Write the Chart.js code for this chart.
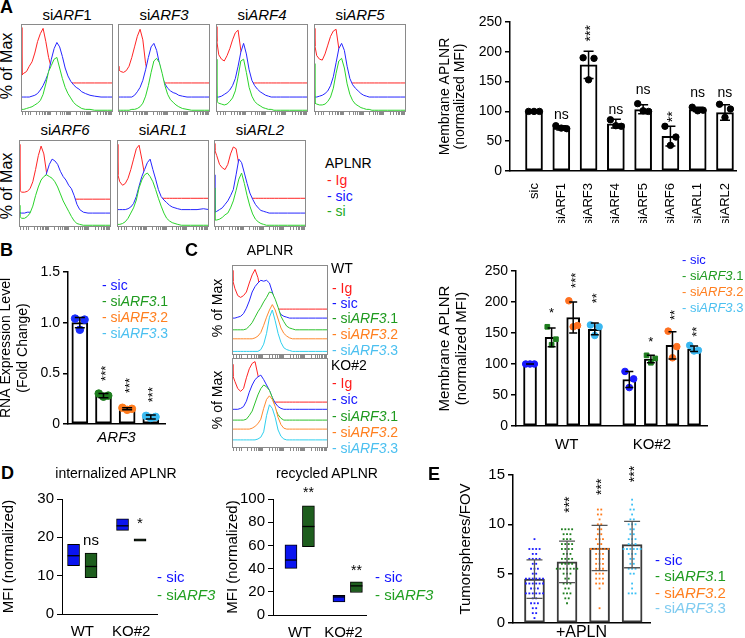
<!DOCTYPE html>
<html><head><meta charset="utf-8">
<script src="https://cdn.jsdelivr.net/npm/chart.js@4.4.1/dist/chart.umd.min.js"></script>
<style>
html,body{margin:0;padding:0;background:#fff;}
body{position:relative;width:745px;height:638px;overflow:hidden;font-family:'Liberation Sans',Arial,Helvetica,sans-serif;color:#000;}
.t{position:absolute;white-space:nowrap;line-height:1.15;}
canvas{position:absolute;}
</style></head><body>
<script>
// ================= DATA =================
// Flow histograms: shared x grid (fluorescence channel, 0-100) and curves in % of max (overlay offsets included)
const HX = [0,1,3,6,9,12,15,18,21,24,27,30,33,36,39,42,45,48,51,54,57,60,63,66,70,75,80,87,94,100];

const histTitlesA = ['si<i>ARF</i>1','si<i>ARF3</i>','si<i>ARF4</i>','si<i>ARF5</i>','si<i>ARF6</i>','si<i>ARL1</i>','si<i>ARL2</i>'];
const histIg = [
 [96,42,44,46,52,57,67,80,89,95,80,62,50,42,36,33,33,33,33,33,33,33,33,33,33,33,33,33,33,33],
 [52,48,46,45,47,52,62,74,86,94,82,55,42,36,34,33,33,33,33,33,33,33,33,33,33,33,33,33,33,33],
 [97,80,65,60,58,64,72,82,90,93,70,48,38,34,33,33,33,33,33,33,33,33,33,33,33,33,33,33,33,33],
 [95,75,64,60,59,66,76,86,92,94,72,50,39,35,33,33,33,33,33,33,33,33,33,33,33,33,33,33,33,33],
 [95,42,40,40,41,44,52,66,82,93,84,62,46,40,37,35,34,33,32,32,32,32,32,32,32,32,32,32,32,32],
 [95,60,52,48,50,56,66,78,90,94,78,60,46,38,34,33,33,33,33,33,33,33,33,33,33,33,33,33,33,33],
 [96,88,82,72,68,66,72,84,92,90,72,52,40,35,33,33,33,33,33,33,33,33,33,33,33,33,33,33,33,33]
];
const histSic = [
 [17,17,17,17,17,18,19,21,25,30,37,45,60,72,79,74,63,50,41,35,31,28,26,23,21,19,18,17,17,17],
 [17,17,17,17,17,17,17,19,23,28,36,48,62,74,78,70,55,40,32,27,24,22,21,19,18,17,17,17,17,17],
 [17,17,17,18,20,22,25,30,38,52,68,78,66,48,36,30,26,23,21,19,18,17,17,17,17,17,17,17,17,17],
 [17,17,17,18,19,21,24,30,40,56,72,78,70,52,38,31,27,24,21,19,18,17,17,17,17,17,17,17,17,17],
 [17,16,16,16,17,17,18,20,24,34,50,62,72,78,76,72,64,58,54,48,44,36,26,20,17,16,16,16,16,16],
 [20,20,20,20,20,21,23,27,35,47,58,66,74,78,66,55,43,35,31,28,25,23,22,21,20,20,20,20,21,20],
 [60,17,18,20,22,26,30,36,43,60,78,74,62,50,39,32,26,22,19,18,17,16,16,16,16,16,16,16,16,16]
];
const histSi = [
 [3,3,3,4,5,6,8,10,13,20,32,46,53,60,62,50,38,28,21,16,11,8,6,4,3,3,2,2,2,2],
 [2,2,2,2,2,2,3,3,4,6,10,18,30,45,58,61,56,44,30,20,14,11,8,6,4,3,2,2,2,2],
 [60,12,10,9,8,9,12,16,24,40,58,60,45,28,18,12,9,7,5,4,3,3,2,2,2,2,2,2,2,2],
 [55,10,9,8,8,9,12,17,27,44,58,61,50,32,20,13,9,7,5,4,3,3,2,2,2,2,2,2,2,2],
 [25,12,10,10,12,16,24,36,46,54,58,60,58,56,52,46,38,30,24,18,12,7,4,3,2,2,2,2,2,2],
 [3,3,3,4,6,10,16,22,31,45,54,60,62,58,52,43,33,24,16,10,7,5,4,3,2,2,2,2,2,2],
 [45,8,8,9,11,14,16,22,30,42,55,62,50,36,24,15,9,6,4,3,2,2,2,2,2,2,2,2,2,2]
];
// Panel C histograms: WT and KO#2, five overlaid curves
const cWtIg  = [94,82,74,66,64,66,70,80,89,95,86,70,56,52,51,51,51,51,51,51,51,51,51,51,51,51,51,51,51,51];
const cWtSic = [41,41,41,42,43,46,52,60,70,76,80,83,82,83,80,70,58,50,45,43,42,41,41,41,41,41,41,41,41,41];
const cWtS1  = [28,28,28,28,28,28,29,32,36,42,48,53,59,64,70,69,62,53,43,37,32,30,29,28,28,28,28,28,28,28];
const cWtS2  = [18,18,18,18,18,18,18,18,18,19,21,25,33,42,50,56,50,40,30,24,21,19,18,18,18,18,18,18,18,18];
const cWtS3  = [4,4,4,4,4,4,4,4,4,4,4,6,12,24,42,50,38,24,14,8,6,5,4,4,4,4,4,4,4,4];
const cKoIg  = [93,80,74,66,63,66,78,88,94,96,81,64,55,52,51,51,51,51,51,51,51,51,51,51,51,51,51,51,51,51];
const cKoSic = [43,43,43,43,44,46,52,62,70,76,79,81,76,70,64,56,50,46,44,43,43,43,43,43,43,43,43,43,43,43];
const cKoS1  = [31,31,31,31,31,31,32,36,41,50,59,66,70,68,64,56,44,37,33,31,31,31,31,31,31,31,31,31,31,31];
const cKoS2  = [21,21,21,21,21,21,21,21,22,24,27,32,44,54,58,54,46,34,26,22,21,21,21,21,21,21,21,21,21,21];
const cKoS3  = [9,9,9,9,9,9,9,9,9,9,10,12,18,36,48,44,34,20,13,10,9,9,9,9,9,9,9,9,9,9];

// Panel A bar chart
const aCats = ['sic','siARF1','siARF3','siARF4','siARF5','siARF6','siARL1','siARL2'];
const aMean = [100,72,178,79,103,58,103,98];
const aPts  = [[100,100,100],[76,71,72],[190,189,153],[86,75,76],[113,100,101],[75,57,43],[107,102,101],[112,104,90]];
const aLo   = [99,69,155,72,96,42,100,85];
const aHi   = [101,76,201,87,111,75,107,111];
const aSig  = ['','ns','***','ns','ns','**','ns','ns'];
const aSigY = [0,94,231,102,136,91,131,131];

// Panel B
const bCats = ['sic','siARF3.1','siARF3.2','siARF3.3'];
const bMean = [1.0,0.28,0.15,0.07];
const bPts  = [[1.04,1.03,0.93],[0.30,0.28,0.27],[0.16,0.15,0.14],[0.08,0.07,0.06]];
const bLo   = [0.95,0.26,0.14,0.05];
const bHi   = [1.05,0.30,0.16,0.09];
const bSig  = ['','***','***','***'];
const bSigY = [0,0.50,0.38,0.29];

// Panel C bar chart
const cGroups = ['WT','KO#2'];
const cMean = [[100,143,175,156],[75,108,130,124]];
const cPts  = [[[100,100,100],[160,140,131],[202,162,160],[163,160,146]],
               [[88,76,62],[114,109,102],[153,128,110],[130,122,121]]];
const cLo   = [[100,128,150,147],[62,102,108,120]];
const cHi   = [[100,158,200,166],[88,114,152,129]];
const cSig  = [['','*','***','**'],['','*','**','**']];
const cSigY = [[0,182,235,206],[0,135,179,152]];

// Panel D
const dGroups = ['WT','KO#2'];
const intSicBox = [[12.6,18.2],[21.8,24.8]], intSicMed = [15.2,23.0];
const intSiBox  = [[9.5,15.9],[19.0,19.6]],  intSiMed  = [12.4,19.3];
const recSicBox = [[40.2,60.4],[11.3,17.0]], recSicMed = [47.4,15.6];
const recSiBox  = [[59.0,94.2],[19.4,28.6]], recSiMed  = [76.3,25.1];
const intSig = ['ns','*'], intSigY = [19.2,23.5];
const recSig = ['**','**'], recSigY = [105,38];

// Panel E (tumorspheres per field of view)
const eMean = [4.45,6.2,7.6,7.95];
const eLo   = [2.5,4.1,5.3,5.6];
const eHi   = [6.4,8.3,9.9,10.3];
const eSic = [8.5,7.5,7.5,7.5,7.5,7,7,6.5,6.5,6.5,6.5,6,6,5.5,5.5,5.5,5,5,4.5,4.5,4.5,4.5,4.5,4.5,4,4,4,4,4,4,3.5,3.5,3.5,3,3,3,3,3,3,2.5,2.5,2,2,2,1.5,1.5,1,1,0.5];
const eS31 = [9.5,9.5,9.5,9.5,9,9,9,8.5,8.5,8.5,8,8,8,8,7.5,7.5,7.5,7.5,7,7,7,6.5,6.5,6.5,6.5,6,6,6,6,5.5,5.5,5.5,5.5,5.5,5.5,5.5,5,5,5,4.5,4.5,4,4,4,3.5,3.5,3,3,3,2.5,2.5,2];
const eS32 = [11.5,11.5,11,11,10.5,10,10,9.5,9.5,9,9,8.5,8.5,8.5,8,8,7.5,7.5,7.5,7.5,7.5,7.5,7,7,7,6.5,6.5,6.5,6,6,6,5.5,5.5,5.5,5,5,5,4.5,4.5,4.5,4,4,4,3.5,1.5];
const eS33 = [12.5,12,11.5,11.5,11,10.5,10.5,10,10,10,9.5,9.5,9,9,8.5,8.5,8.5,8,8,8,7.5,7.5,7.5,7.5,7.5,7.5,7,7,7,6.5,6.5,6,6,5.5,5.5,5.5,5,5,4,3.5,3,3,3];
const eSig = ['','***','***','***'], eSigY = [0,12,13.8,15.1];

// ================= STYLE / HELPERS =================
const F = "'Liberation Sans', Arial, Helvetica, sans-serif";
Chart.defaults.font.family = F;
Chart.defaults.color = '#000';
const RED='#ff2424', BLUE='#2626ff', GRN='#2bd42b', GRN2='#2ec22e', ORG='#ff8a30', CYN='#2fd0ee';
const T_BLUE='#1414ff', T_GRN='#1f9a1f', T_ORG='#ff7f1f', T_LB='#4cc0f0', T_RED='#ff1a1a';
const D_BLUE='#1a2eff', D_GRN='#1e7d1e', D_ORG='#ff7b1c', D_LB='#3cbcf2';

const framePlugin = {id:'frame', afterDraw(ch,a,o){
  if(!o || !o.color) return;
  const {left,top,right,bottom}=ch.chartArea, c=ch.ctx;
  c.save(); c.strokeStyle=o.color; c.lineWidth=1;
  c.strokeRect(left+0.5,top+0.5,right-left-1,bottom-top-1); c.restore();
}};
const extras = {id:'extras', afterDatasetsDraw(ch,a,o){
  if(!o) return;
  const c=ch.ctx, xs=ch.scales.x, ys=ch.scales.y;
  c.save();
  (o.err||[]).forEach(e=>{
    const px=xs.getPixelForValue(e.x), p1=ys.getPixelForValue(e.lo), p2=ys.getPixelForValue(e.hi);
    c.strokeStyle=e.color; c.lineWidth=e.lw; c.beginPath();
    c.moveTo(px,p1); c.lineTo(px,p2);
    c.moveTo(px-e.cap,p1); c.lineTo(px+e.cap,p1);
    c.moveTo(px-e.cap,p2); c.lineTo(px+e.cap,p2);
    c.stroke();
  });
  (o.notes||[]).forEach(n=>{
    if(!n.t) return;
    const px=xs.getPixelForValue(n.x), py=ys.getPixelForValue(n.y);
    c.save(); c.translate(px+(n.rot?3:0),py); if(n.rot) c.rotate(-Math.PI/2);
    c.font=n.font; c.fillStyle='#000'; c.textAlign='center'; c.textBaseline='middle';
    c.fillText(n.t,0,0); c.restore();
  });
  c.restore();
}};
Chart.register(framePlugin, extras);

function cv(x,y,w,h){const c=document.createElement('canvas');c.width=w;c.height=h;
  c.style.left=x+'px';c.style.top=y+'px';c.style.width=w+'px';c.style.height=h+'px';
  document.body.appendChild(c);return c;}
function txt(x,y,html,o){o=o||{};const d=document.createElement('div');d.className='t';d.innerHTML=html;
  d.style.left=x+'px';d.style.top=y+'px';d.style.fontSize=(o.size||14)+'px';
  if(o.color)d.style.color=o.color; if(o.bold)d.style.fontWeight='bold';
  d.style.transform=o.rot?'translate(-50%,-50%) rotate(-90deg)':(o.center?'translate(-50%,-50%)':'translate(0,-50%)');
  document.body.appendChild(d);}
function opts(o){return Object.assign({responsive:false,maintainAspectRatio:false,animation:false,events:[]},o,
  {plugins:Object.assign({legend:{display:false},tooltip:{enabled:false}},o.plugins||{})});}
function yAx(min,max,step,fs,title,tfs,tlh,tpad,w,fmt,lw){
  return {type:'linear',min,max,
    ticks:{stepSize:step,font:{size:fs},padding:3,color:'#000',callback:fmt||(v=>v)},
    grid:{drawOnChartArea:false,drawTicks:true,tickLength:5,color:'#000',lineWidth:lw||1.5},
    border:{display:true,color:'#000',width:lw||1.5},
    title:{display:true,text:title,font:{size:tfs,lineHeight:tlh},padding:{top:tpad,bottom:0},color:'#000'},
    afterFit:s=>{s.width=w;}};
}
function xAx(min,max,pos,labels,fs,h,o){o=o||{};
  return {type:'linear',min,max,offset:false,
    afterBuildTicks:s=>{s.ticks=pos.map(v=>({value:v}));},
    ticks:{display:labels.length>0,autoSkip:false,font:{size:fs},padding:o.pad||3,color:'#000',
      maxRotation:o.rot||0,minRotation:o.rot||0,callback:(v,i)=>labels[i]},
    grid:{display:false},
    border:{display:true,color:'#000',width:o.lw||1.5},
    title:o.title?{display:true,text:o.title,font:{size:o.tfs||15,style:o.ital?'italic':'normal',lineHeight:1.15},padding:{top:0,bottom:o.tpad||0},color:'#000'}:{display:false},
    afterFit:s=>{s.height=h;}};
}
function trio(vals,cx,step){const off=[-1,1,0];return vals.map((v,i)=>({x:cx+off[i%3]*step,y:v}));}
function swarm(vals,cx,step){const cnt={},seen={};vals.forEach(v=>{cnt[v]=(cnt[v]||0)+1;});
  return vals.map(v=>{const k=seen[v]=(seen[v]===undefined?0:seen[v]+1);return {x:cx+(k-(cnt[v]-1)/2)*step,y:v};});}

// ---------- histogram helper ----------
const LOGT=[2,5,8];
[0,1,2,3].forEach(d=>[1,2,3,4,5,6,7,8,9].forEach(k=>LOGT.push(10+d*22+Math.log10(k)*22)));
LOGT.push(98);
function hist(x,y,w,h,curves,colors){
  new Chart(cv(x,y,w,h+4),{type:'line',
    data:{datasets:curves.map((arr,i)=>({data:HX.map((v,j)=>({x:v,y:arr[j]})),borderColor:colors[i],borderWidth:1,
      pointRadius:0,fill:'origin',backgroundColor:'#ffffff',tension:0}))},
    options:opts({layout:{padding:0},
      scales:{x:{type:'linear',min:0,max:100,offset:false,ticks:{display:false},
                 grid:{display:true,drawOnChartArea:false,drawTicks:true,tickLength:3,color:'#8a8a8a',lineWidth:1},
                 border:{display:false},afterBuildTicks:s=>{s.ticks=LOGT.map(v=>({value:v}));},afterFit:s=>{s.height=4;}},
              y:{display:false,min:0,max:100}},
      plugins:{frame:{color:'#8a8a8a'}}})});
}

// ================= PANEL A =================
txt(0,7,'A',{size:18,bold:true});
const boxA=[[21,24,88],[118,24,88],[216,24,88],[314,24,88],[19,140,87],[117,140,87],[214,140,87]];
boxA.forEach((b,i)=>{
  hist(b[0],b[1],92,b[2],[histSi[i],histSic[i],histIg[i]],[GRN,BLUE,RED]);
  txt(b[0]+46,i<4?15:130,histTitlesA[i],{size:15,center:true});
});
txt(7,66,'% of Max',{size:16,rot:true});
txt(7,186,'% of Max',{size:16,rot:true});
txt(325,163,'APLNR',{size:14});
txt(327,180,'- Ig',{size:14,color:T_RED});
txt(327,196,'- sic',{size:14,color:T_BLUE});
txt(327,211,'- si',{size:14,color:'#22aa22'});

new Chart(cv(430,8,315,215),{type:'bar',
  data:{datasets:[
    {type:'scatter',data:aPts.flatMap((p,i)=>trio(p,i,0.2)),backgroundColor:'#000',borderColor:'#000',pointRadius:3.2,order:0},
    {type:'bar',data:aMean.map((v,i)=>({x:i,y:v})),backgroundColor:'#fff',borderColor:'#000',borderWidth:2,borderSkipped:false,barThickness:17,order:1}
  ]},
  options:opts({layout:{padding:{top:14,right:8,left:0,bottom:0}},
    scales:{x:xAx(-0.88,7.44,aCats.map((c,i)=>i),aCats,13,52,{rot:90,pad:4}),
            y:yAx(0,250,50,14,['Membrane APLNR','(normalized MFI)'],14,1.1,7,80)},
    plugins:{extras:{
      err:aMean.map((v,i)=>({x:i,lo:aLo[i],hi:aHi[i],cap:5,lw:1.5,color:'#000'})),
      notes:aSig.map((s,i)=>({x:i,y:aSigY[i],t:s,rot:s.charAt(0)==='*',font:'14px '+F}))}}})});

// ================= PANEL B =================
txt(0,250,'B',{size:18,bold:true});
const bDotCol=[D_BLUE,D_GRN,D_ORG,D_LB];
new Chart(cv(-5,258,175,190),{type:'bar',
  data:{datasets:[
    {type:'scatter',data:bPts.flatMap((p,i)=>trio(p,i,0.2)),
     backgroundColor:bPts.flatMap((p,i)=>p.map(()=>bDotCol[i])),borderColor:bPts.flatMap((p,i)=>p.map(()=>bDotCol[i])),pointRadius:3.8,order:0},
    {type:'bar',data:bMean.map((v,i)=>({x:i,y:v})),backgroundColor:'#fff',borderColor:'#000',borderWidth:2,borderSkipped:false,barThickness:16,order:1}
  ]},
  options:opts({layout:{padding:{top:14,right:5,left:0,bottom:0}},
    scales:{x:xAx(-0.5,3.6,[],[],14,24,{title:'ARF3',ital:true,tfs:15,tpad:2}),
            y:yAx(0,1.5,0.5,14,['RNA Expression Level','(Fold Change)'],14,1.25,2,73,v=>v===0?'0':v.toFixed(1))},
    plugins:{extras:{
      err:bMean.map((v,i)=>({x:i,lo:bLo[i],hi:bHi[i],cap:5,lw:1.5,color:'#000'})),
      notes:bSig.map((s,i)=>({x:i,y:bSigY[i],t:s,rot:true,font:'13px '+F}))}}})});
txt(102,285,'- sic',{size:14,color:T_BLUE});
txt(102,301,'- si<i>ARF3</i>.1',{size:14,color:T_GRN});
txt(102,317,'- si<i>ARF3</i>.2',{size:14,color:T_ORG});
txt(102,333,'- si<i>ARF3</i>.3',{size:14,color:T_LB});

// ================= PANEL C =================
txt(185,250,'C',{size:18,bold:true});
txt(270,250,'APLNR',{size:14,center:true});
hist(232,265,96,90,[cWtS3,cWtS2,cWtS1,cWtSic,cWtIg],[CYN,ORG,GRN2,BLUE,RED]);
hist(232,358,96,90,[cKoS3,cKoS2,cKoS1,cKoSic,cKoIg],[CYN,ORG,GRN2,BLUE,RED]);
txt(217,308,'% of Max',{size:14,rot:true});
txt(217,400,'% of Max',{size:14,rot:true});
txt(331,268,'WT',{size:14});
txt(332,288,'- Ig',{size:14,color:T_RED});
txt(332,303,'- sic',{size:14,color:T_BLUE});
txt(332,318,'- si<i>ARF3</i>.1',{size:14,color:T_GRN});
txt(332,334,'- si<i>ARF3</i>.2',{size:14,color:T_ORG});
txt(332,350,'- si<i>ARF3</i>.3',{size:14,color:T_LB});
txt(331,365,'KO#2',{size:14});
txt(332,383,'- Ig',{size:14,color:T_RED});
txt(332,399,'- sic',{size:14,color:T_BLUE});
txt(332,416,'- si<i>ARF3</i>.1',{size:14,color:T_GRN});
txt(332,432,'- si<i>ARF3</i>.2',{size:14,color:T_ORG});
txt(332,448,'- si<i>ARF3</i>.3',{size:14,color:T_LB});

const cDotCol=['#1a1aff',D_GRN,'#ff7020','#3ab7f0'], cDotSty=['circle','rect','circle','circle'];
const cX=(g,s)=>g*4.6+s;
const cDots=[], cCol=[], cSty=[], cBars=[], cErr=[], cNotes=[];
cPts.forEach((grp,g)=>grp.forEach((p,s)=>{
  trio(p,cX(g,s),0.2).forEach(pt=>{cDots.push(pt);cCol.push(cDotCol[s]);cSty.push(cDotSty[s]);});
  cBars.push({x:cX(g,s),y:cMean[g][s]});
  cErr.push({x:cX(g,s),lo:cLo[g][s],hi:cHi[g][s],cap:4,lw:1.5,color:'#000'});
  cNotes.push({x:cX(g,s),y:cSigY[g][s],t:cSig[g][s],rot:cSig[g][s].length>1,font:'13px '+F});
}));
new Chart(cv(425,255,290,195),{type:'bar',
  data:{datasets:[
    {type:'scatter',data:cDots,backgroundColor:cCol,borderColor:cCol,pointStyle:cSty,pointRadius:3.3,order:0},
    {type:'bar',data:cBars,backgroundColor:'#fff',borderColor:'#000',borderWidth:2,borderSkipped:false,barThickness:13,order:1}
  ]},
  options:opts({layout:{padding:{top:16,right:8,left:0,bottom:0}},
    scales:{x:xAx(-0.65,8.2,[1.7,5.65],cGroups,15,24,{pad:2}),
            y:yAx(0,250,50,14,['Membrane APLNR','(normalized MFI)'],15,1.15,11,91)},
    plugins:{extras:{err:cErr,notes:cNotes}}})});
txt(682,260,'- sic',{size:13,color:T_BLUE});
txt(682,276,'- si<i>ARF3</i>.1',{size:13,color:T_GRN});
txt(682,292,'- si<i>ARF3</i>.2',{size:13,color:T_ORG});
txt(682,308,'- si<i>ARF3</i>.3',{size:13,color:T_LB});

// ================= PANEL D =================
txt(1,473,'D',{size:18,bold:true});
const BOX_SIC='#0a14f0', BOX_SI='#1e5e1e';
function boxChart(x,w,yMax,yStep,yw,tpad,kOff,sicBox,sicMed,siBox,siMed,sig,sigY,xmin,xmax,tickPos,sigFont){
  const boxes=[], cols=[], meds=[], notes=[];
  dGroups.forEach((g,gi)=>{
    [[sicBox,sicMed,BOX_SIC],[siBox,siMed,BOX_SI]].forEach((s,si)=>{
      const px=gi*kOff+si;
      boxes.push({x:px,y:s[0][gi]}); cols.push(s[2]); meds.push({x:px,y:s[1][gi]});
    });
    notes.push({x:gi*kOff+1,y:sigY[gi],t:sig[gi],rot:false,font:sigFont+'px '+F});
  });
  new Chart(cv(x,480,w,158),{type:'bar',
    data:{datasets:[
      {type:'scatter',data:meds,pointStyle:'line',pointRadius:6,borderColor:'#000',borderWidth:1.3,order:0},
      {type:'bar',data:boxes,backgroundColor:cols,borderColor:'#000',borderWidth:1,borderSkipped:false,barThickness:12,order:1}
    ]},
    options:opts({layout:{padding:{top:19,right:x===0?8:9,left:0,bottom:0}},
      scales:{x:xAx(xmin,xmax,tickPos,dGroups,15,x===0?24:23,{pad:1,lw:1}),
              y:yAx(0,yMax,yStep,15,'MFI (normalized)',15,1.15,tpad,yw,null,1)},
      plugins:{extras:{notes}}})});
}
boxChart(0,165,30,10,62,0,2.8,intSicBox,intSicMed,intSiBox,intSiMed,intSig,intSigY,-0.66,4.77,[0.5,3.3],15);
boxChart(205,170,100,20,68,19,2.75,recSicBox,recSicMed,recSiBox,recSiMed,recSig,recSigY,-1.03,4.3,[0.5,3.0],14);
txt(116,473,'internalized APLNR',{size:14,center:true});
txt(327,473,'recycled APLNR',{size:14,center:true});
txt(157,577,'- sic',{size:15,color:T_BLUE});
txt(157,595,'- si<i>ARF3</i>',{size:15,color:'#22a022'});
txt(375,577,'- sic',{size:15,color:T_BLUE});
txt(375,595,'- si<i>ARF3</i>',{size:15,color:'#22a022'});

// ================= PANEL E =================
txt(428,474,'E',{size:18,bold:true});
const eVals=[eSic,eS31,eS32,eS33], eCol=['#1c1cff',D_GRN,D_ORG,'#3cc0f5'];
new Chart(cv(440,455,215,188),{type:'bar',
  data:{datasets:[
    ...eVals.map((vals,i)=>({type:'scatter',data:swarm(vals,i,0.105),backgroundColor:eCol[i],borderColor:eCol[i],pointStyle:'rect',pointRadius:1.3,borderWidth:0,order:0})),
    {type:'bar',data:eMean.map((v,i)=>({x:i,y:v})),backgroundColor:'#fff',borderColor:'#3a3a3a',borderWidth:2,borderSkipped:false,barThickness:20,order:1}
  ]},
  options:opts({layout:{padding:{top:20,right:5,left:0,bottom:0}},
    scales:{x:xAx(-0.66,3.55,[],[],15,20,{title:'+APLN',tfs:16,tpad:1}),
            y:yAx(0,15,5,15,'Tumorspheres/FOV',15,1.15,17,73)},
    plugins:{extras:{
      err:eMean.map((v,i)=>({x:i,lo:eLo[i],hi:eHi[i],cap:8,lw:1.3,color:'#555'})),
      notes:eSig.map((s,i)=>({x:i,y:eSigY[i],t:s,rot:true,font:'14px '+F}))}}})});
txt(655,560,'- sic',{size:15,color:T_BLUE});
txt(655,576,'- si<i>ARF3</i>.1',{size:15,color:T_GRN});
txt(655,593,'- si<i>ARF3</i>.2',{size:15,color:T_ORG});
txt(655,608,'- si<i>ARF3</i>.3',{size:15,color:'#7ecbf0'});
</script>
</body></html>
